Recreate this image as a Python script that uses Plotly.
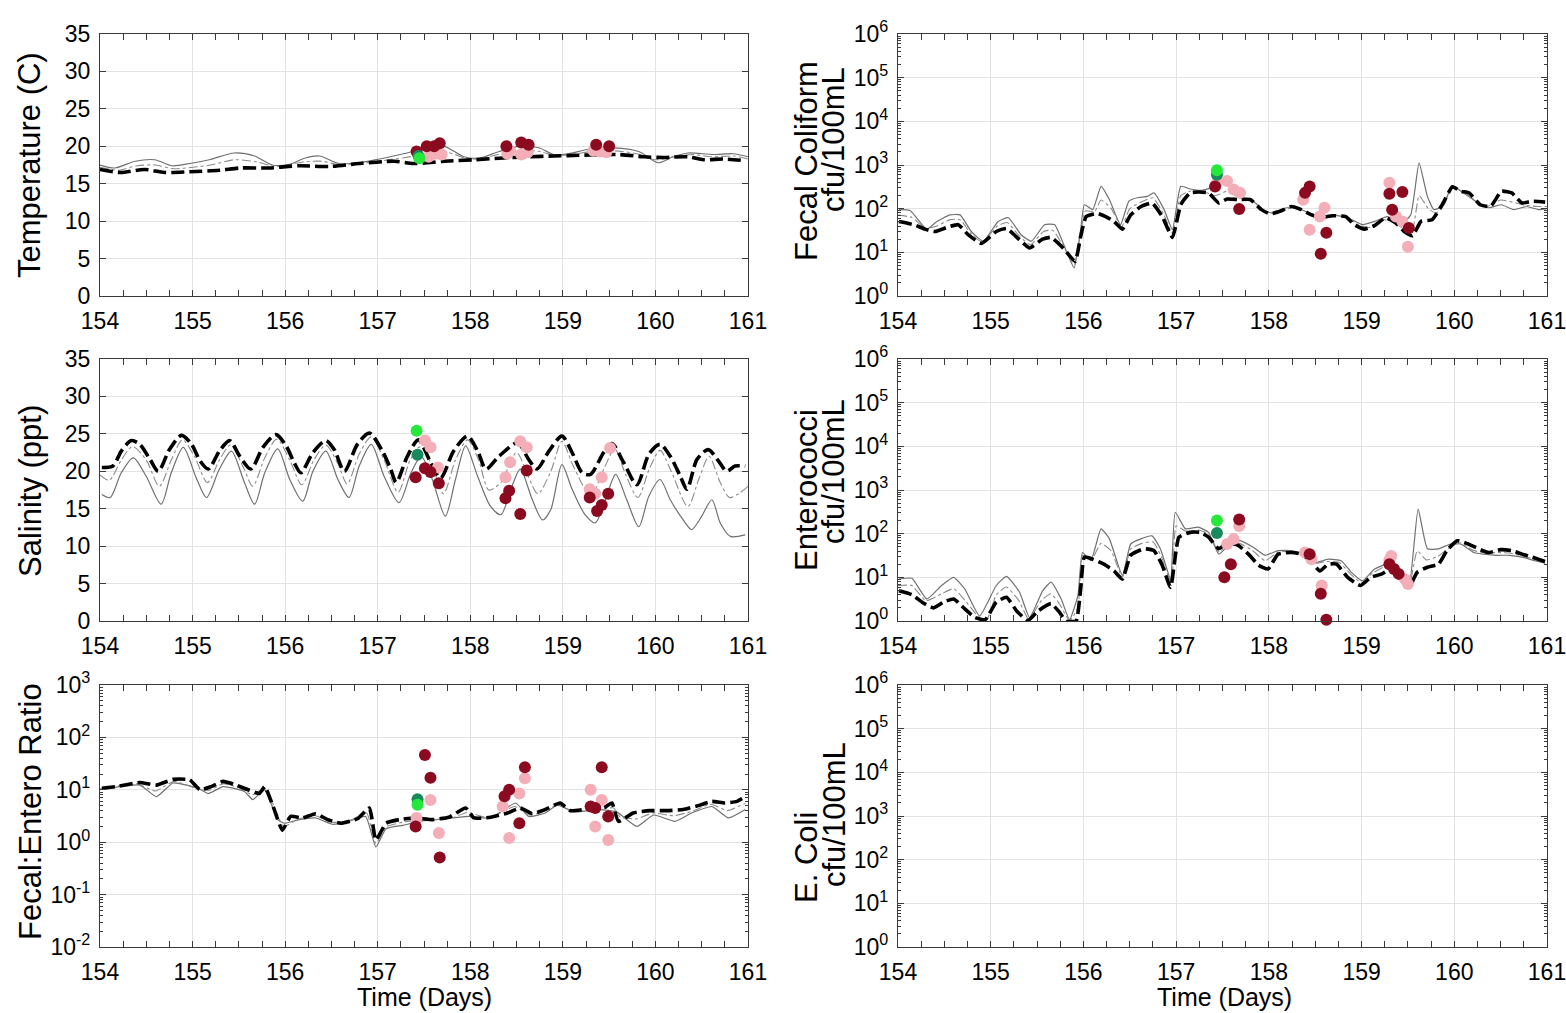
import plotly.graph_objects as go

# ---------------- DATA ----------------
# Temperature (C)
temp_black_t = [154.0, 154.22, 154.48, 154.70, 154.97, 155.29, 155.51, 155.83, 156.15, 156.48, 156.80, 157.18, 157.39, 157.72,
                158.04, 158.31, 158.63, 158.90, 159.17, 159.60, 159.87, 160.09, 160.35, 160.52, 160.73, 160.95]
temp_black_v = [16.9, 16.5, 16.9, 16.5, 16.6, 16.8, 17.1, 17.1, 17.4, 17.3, 17.7, 18.0, 17.7, 18.0,
                18.2, 18.4, 18.6, 18.7, 18.8, 18.9, 18.6, 18.5, 18.6, 18.2, 18.3, 18.1]
temp_thin_t = [154.0, 154.16, 154.38, 154.59, 154.78, 154.97, 155.18, 155.45, 155.67, 155.86, 156.05, 156.21, 156.37, 156.58,
               156.80, 157.02, 157.28, 157.55, 157.72, 157.93, 158.09, 158.31, 158.52, 158.74, 158.90, 159.06, 159.28, 159.55,
               159.82, 160.03, 160.19, 160.35, 160.62, 160.84, 161.0]
temp_thin_v = [17.5, 17.1, 18.0, 18.2, 17.4, 17.7, 18.2, 19.1, 18.7, 17.5, 17.6, 18.4, 18.7, 17.7,
               17.8, 18.3, 19.0, 19.8, 20.0, 18.6, 18.4, 19.3, 20.0, 19.8, 18.9, 19.0, 19.6, 19.8,
               19.3, 17.8, 18.6, 19.1, 18.9, 19.0, 18.6]
temp_dd_t = [154.0, 154.2, 154.4, 154.6, 154.8, 155.0, 155.2, 155.45, 155.7, 155.9, 156.2, 156.4, 156.6, 156.8, 157.0,
             157.3, 157.55, 157.75, 157.95, 158.1, 158.3, 158.55, 158.75, 158.9, 159.1, 159.3, 159.55, 159.8, 160.0,
             160.2, 160.4, 160.6, 160.85, 161.0]
temp_dd_v = [17.2, 16.8, 17.4, 17.5, 17.0, 17.2, 17.5, 18.2, 17.9, 17.3, 17.9, 18.0, 17.5, 17.7, 18.0,
             18.5, 19.0, 19.2, 18.4, 18.3, 18.9, 19.4, 19.3, 18.8, 18.9, 19.3, 19.4, 19.0, 18.2,
             18.6, 18.9, 18.6, 18.7, 18.3]
temp_red_t = [157.42, 157.53, 157.61, 157.67, 158.39, 158.55, 158.63, 159.36, 159.50]
temp_red_v = [19.3, 20.0, 20.0, 20.4, 20.0, 20.5, 20.2, 20.2, 20.0]
temp_pink_t = [157.55, 157.62, 157.69, 158.40, 158.43, 158.55, 158.62, 159.33, 159.40, 159.47]
temp_pink_v = [18.6, 19.0, 18.9, 19.0, 19.4, 18.9, 19.2, 19.4, 19.3, 19.2]
temp_teal_t = [157.44]
temp_teal_v = [18.7]
temp_green_t = [157.45]
temp_green_v = [18.4]

# Salinity (ppt)
sal_black_t = [154.02, 154.14, 154.23, 154.34, 154.43, 154.54, 154.63, 154.75, 154.88, 154.99, 155.08, 155.17, 155.29,
               155.40, 155.51, 155.63, 155.76, 155.90, 156.01, 156.10, 156.17, 156.30, 156.44, 156.53, 156.64, 156.78,
               156.91, 157.05, 157.14, 157.20, 157.32, 157.44, 157.56, 157.68, 157.82, 157.97, 158.08, 158.17, 158.31,
               158.51, 158.63, 158.72, 158.85, 158.99, 159.10, 159.21, 159.30, 159.44, 159.53, 159.66, 159.80, 159.93,
               160.05, 160.16, 160.27, 160.34, 160.45, 160.57, 160.68, 160.77, 160.86, 160.97]
sal_black_v = [20.5, 20.7, 22.7, 24.1, 23.6, 21.6, 20.0, 22.9, 24.8, 23.6, 21.4, 20.3, 22.7,
               24.1, 22.0, 20.3, 23.2, 24.9, 23.4, 21.1, 19.8, 22.5, 24.1, 22.9, 20.0, 23.6,
               25.1, 22.7, 20.3, 18.5, 22.0, 24.2, 21.5, 19.1, 22.7, 24.7, 22.7, 20.3, 22.0,
               23.8, 21.6, 20.3, 22.7, 24.7, 22.5, 19.8, 19.6, 22.5, 23.7, 21.1, 18.2, 22.3,
               23.6, 22.0, 19.3, 17.6, 21.6, 22.9, 21.4, 20.0, 20.7, 20.7]
sal_thin_t = [154.02, 154.11, 154.23, 154.36, 154.50, 154.66, 154.77, 154.90, 155.04, 155.15, 155.29, 155.42, 155.56,
              155.67, 155.78, 155.92, 156.05, 156.19, 156.30, 156.44, 156.57, 156.69, 156.80, 156.93, 157.07, 157.23,
              157.36, 157.47, 157.59, 157.73, 157.84, 157.95, 158.08, 158.22, 158.33, 158.45, 158.54, 158.67, 158.78,
              158.87, 158.99, 159.10, 159.24, 159.35, 159.46, 159.57, 159.69, 159.82, 159.93, 160.05, 160.16, 160.30,
              160.39, 160.50, 160.61, 160.70, 160.81, 160.97]
sal_thin_v = [16.9, 16.5, 19.8, 21.8, 19.3, 15.6, 19.8, 23.2, 19.1, 16.5, 20.3, 22.7, 18.5,
              15.6, 19.8, 23.0, 18.9, 16.0, 20.0, 22.7, 18.9, 16.5, 20.7, 23.6, 19.3, 15.8,
              19.8, 22.0, 18.9, 14.0, 18.9, 23.4, 19.3, 15.3, 14.2, 18.0, 20.3, 16.2, 13.5,
              14.9, 20.9, 17.6, 14.2, 13.1, 16.2, 19.6, 16.2, 12.6, 16.7, 18.9, 16.2, 13.5,
              12.2, 14.0, 16.2, 13.1, 11.3, 11.5]
sal_dd_t = [154.0, 154.1, 154.23, 154.35, 154.5, 154.64, 154.77, 154.89, 155.02, 155.16, 155.29, 155.41, 155.55, 155.65,
            155.78, 155.91, 156.05, 156.18, 156.31, 156.44, 156.57, 156.67, 156.8, 156.93, 157.07, 157.22, 157.35, 157.46,
            157.58, 157.71, 157.84, 157.97, 158.09, 158.2, 158.33, 158.5, 158.62, 158.73, 158.87, 158.99, 159.12, 159.3,
            159.45, 159.56, 159.68, 159.81, 159.94, 160.05, 160.17, 160.35, 160.47, 160.58, 160.7, 160.8, 160.9, 161.0]
sal_dd_v = [19.5, 18.8, 21.5, 23.3, 21.5, 18.0, 21.5, 24.2, 22.0, 18.5, 21.5, 23.5, 20.5, 18.0,
            21.8, 24.3, 21.5, 18.2, 21.5, 23.5, 21.0, 18.3, 22.3, 24.6, 21.5, 17.2, 21.5, 23.3,
            21.0, 17.0, 21.5, 24.2, 21.5, 17.5, 18.5, 22.5, 19.5, 17.0, 20.0, 24.0, 20.5, 16.8,
            20.5, 23.0, 19.5, 16.5, 20.5, 22.8, 20.0, 15.3, 19.0, 22.0, 18.5, 16.5, 17.0, 18.0]
sal_red_t = [157.41, 157.51, 157.57, 157.66, 158.38, 158.42, 158.54, 158.61, 159.29, 159.37, 159.42, 159.49]
sal_red_v = [19.2, 20.4, 19.9, 18.4, 16.4, 17.4, 14.3, 20.1, 16.5, 14.7, 15.5, 17.0]
sal_pink_t = [157.51, 157.57, 157.65, 158.38, 158.43, 158.54, 158.61, 159.29, 159.35, 159.42, 159.51]
sal_pink_v = [24.1, 23.2, 20.5, 19.2, 21.2, 24.0, 23.2, 17.6, 17.0, 19.2, 23.1]
sal_teal_t = [157.43]
sal_teal_v = [22.2]
sal_green_t = [157.42]
sal_green_v = [25.4]

# Fecal coliform (cfu/100mL)
fc_black_t = [154.01, 154.17, 154.29, 154.40, 154.54, 154.65, 154.76, 154.90, 155.06, 155.17, 155.31, 155.42, 155.56,
              155.65, 155.78, 155.91, 155.97, 156.03, 156.15, 156.24, 156.33, 156.42, 156.51, 156.62, 156.74, 156.85,
              156.96, 157.05, 157.15, 157.24, 157.35, 157.46, 157.55, 157.67, 157.80, 157.92, 158.01, 158.12, 158.24,
              158.35, 158.46, 158.55, 158.69, 158.83, 158.92, 159.03, 159.14, 159.26, 159.37, 159.46, 159.55, 159.64,
              159.76, 159.87, 159.98, 160.07, 160.16, 160.28, 160.39, 160.51, 160.62, 160.73, 160.84, 160.98]
fc_black_v = [51, 43, 34, 30, 38, 43, 25, 16, 30, 35, 19.5, 12.6, 20,
              22, 12.6, 6.2, 23, 66, 78, 66, 51, 34, 72, 112, 135, 66,
              22, 123, 229, 240, 229, 135, 166, 162, 162, 95, 76, 87, 112,
              95, 72, 63, 69, 66, 43, 34, 41, 62, 47, 30, 24, 51,
              56, 123, 316, 251, 229, 123, 112, 251, 229, 135, 148, 141]
fc_thin_t = [154.01, 154.13, 154.31, 154.42, 154.56, 154.67, 154.79, 154.92, 155.08, 155.19, 155.33, 155.44, 155.58,
             155.69, 155.81, 155.90, 155.97, 156.01, 156.10, 156.19, 156.28, 156.40, 156.49, 156.58, 156.69, 156.76,
             156.87, 156.96, 157.05, 157.15, 157.28, 157.42, 157.55, 157.69, 157.83, 157.96, 158.05, 158.19, 158.30,
             158.44, 158.55, 158.69, 158.85, 159.01, 159.14, 159.28, 159.42, 159.53, 159.62, 159.71, 159.78, 159.87,
             159.98, 160.10, 160.23, 160.37, 160.51, 160.64, 160.78, 160.91, 161.0]
fc_thin_v = [95, 91, 34, 51, 72, 72, 30, 18, 51, 62, 25, 18, 43,
             43, 11.5, 4.4, 33, 123, 95, 324, 162, 43, 148, 178, 191, 229,
             95, 33, 324, 282, 263, 324, 427, 191, 148, 87, 79, 105, 105,
             79, 66, 72, 62, 43, 51, 66, 43, 72, 1120, 191, 95, 112,
             324, 229, 148, 105, 123, 95, 112, 95, 100]
fc_dd_t = [154.0, 154.15, 154.3, 154.42, 154.56, 154.67, 154.78, 154.91, 155.07, 155.18, 155.32, 155.43, 155.57, 155.67,
           155.8, 155.9, 155.97, 156.02, 156.12, 156.19, 156.3, 156.41, 156.5, 156.62, 156.75, 156.86, 156.96, 157.05,
           157.15, 157.28, 157.42, 157.55, 157.68, 157.82, 157.95, 158.05, 158.2, 158.32, 158.45, 158.55, 158.7, 158.84,
           158.97, 159.08, 159.22, 159.35, 159.45, 159.55, 159.62, 159.72, 159.8, 159.88, 159.98, 160.1, 160.22, 160.35,
           160.5, 160.63, 160.76, 160.9, 161.0]
fc_dd_v = [71, 63, 35, 40, 56, 56, 28, 17, 40, 48, 22, 15, 30, 32,
           12, 5.2, 28, 89, 85, 158, 100, 38, 100, 141, 178, 79, 28, 200,
           251, 251, 200, 251, 178, 155, 91, 79, 100, 100, 76, 65, 71, 63,
           42, 37, 56, 50, 35, 35, 200, 100, 79, 112, 316, 240, 158, 112,
           158, 141, 120, 112, 112]
fc_red_t = [157.42, 157.68, 158.39, 158.44, 158.56, 158.62, 159.30, 159.33, 159.44, 159.51]
fc_red_v = [320, 98, 230, 320, 9.3, 28, 220, 95, 240, 36]
fc_pink_t = [157.44, 157.55, 157.62, 157.69, 158.37, 158.44, 158.55, 158.60, 159.30, 159.37, 159.44, 159.50]
fc_pink_v = [390, 430, 275, 230, 160, 33, 66, 105, 390, 66, 51, 13.5]
fc_teal_t = [157.44]
fc_teal_v = [600]
fc_green_t = [157.44]
fc_green_v = [760]

# Enterococci (cfu/100mL)
ent_black_t = [154.01, 154.15, 154.26, 154.38, 154.49, 154.60, 154.72, 154.83, 154.94, 155.06, 155.17, 155.28, 155.40,
               155.51, 155.65, 155.74, 155.81, 155.92, 155.97, 156.01, 156.10, 156.22, 156.33, 156.42, 156.51, 156.65,
               156.76, 156.85, 156.94, 157.03, 157.15, 157.26, 157.35, 157.46, 157.55, 157.67, 157.78, 157.89, 157.99,
               158.10, 158.24, 158.35, 158.46, 158.55, 158.64, 158.73, 158.85, 158.99, 159.10, 159.22, 159.34, 159.42,
               159.51, 159.60, 159.71, 159.83, 159.92, 160.03, 160.15, 160.26, 160.37, 160.50, 160.62, 160.73, 160.84,
               160.98]
ent_black_v = [4.9, 4.0, 2.7, 2.0, 2.7, 3.2, 1.9, 1.2, 1.07, 2.7, 3.5, 1.7, 1.02,
               1.7, 2.5, 1.6, 1.0, 1.0, 5.4, 29, 26, 20, 14, 9.1, 32, 45,
               41, 19, 5.9, 83, 107, 107, 83, 45, 63, 54, 34, 19, 15.5,
               34, 37, 34, 22, 14, 20, 20, 10, 6.5, 10, 12, 17, 12,
               5.9, 13, 17, 20, 41, 69, 58, 45, 37, 43, 41, 34, 29,
               23]
ent_thin_t = [154.01, 154.15, 154.31, 154.47, 154.60, 154.72, 154.88, 155.06, 155.17, 155.31, 155.42, 155.56, 155.65,
              155.76, 155.85, 155.94, 155.99, 156.08, 156.19, 156.28, 156.42, 156.51, 156.62, 156.74, 156.83, 156.94,
              156.99, 157.10, 157.24, 157.35, 157.46, 157.58, 157.69, 157.83, 157.96, 158.10, 158.24, 158.37, 158.51,
              158.64, 158.78, 158.89, 159.01, 159.14, 159.28, 159.42, 159.51, 159.61, 159.71, 159.83, 159.96, 160.07,
              160.21, 160.32, 160.46, 160.60, 160.73, 160.87, 160.98]
ent_thin_v = [9.1, 9.5, 3.2, 6.5, 10, 5.4, 1.3, 6.5, 10.5, 4.6, 1.2, 4.9, 7.8,
              3.2, 1.07, 3.8, 37, 24, 129, 76, 11, 58, 76, 89, 45, 9.1,
              309, 129, 141, 107, 34, 58, 69, 49, 32, 41, 41, 34, 22,
              26, 24, 13, 8.3, 15.5, 20, 13, 5.9, 363, 45, 45, 58, 58,
              37, 34, 32, 32, 29, 24, 21]
ent_dd_t = [154.0, 154.15, 154.3, 154.47, 154.6, 154.72, 154.87, 154.96, 155.06, 155.17, 155.3, 155.41, 155.55, 155.65,
            155.75, 155.85, 155.94, 155.99, 156.08, 156.19, 156.3, 156.42, 156.51, 156.63, 156.75, 156.84, 156.95, 157.0,
            157.1, 157.25, 157.36, 157.46, 157.57, 157.68, 157.82, 157.96, 158.1, 158.24, 158.36, 158.5, 158.62, 158.76,
            158.88, 159.0, 159.12, 159.27, 159.42, 159.51, 159.6, 159.7, 159.82, 159.95, 160.06, 160.2, 160.33, 160.47,
            160.6, 160.73, 160.86, 160.98]
ent_dd_v = [6.5, 6.5, 2.9, 4.2, 5.5, 3.0, 1.25, 1.1, 4.0, 6.0, 3.0, 1.1, 3.0, 4.2,
            2.3, 1.02, 2.0, 32, 24, 60, 40, 10, 45, 60, 65, 30, 7.5, 150,
            115, 120, 95, 38, 60, 60, 42, 24, 38, 39, 34, 21, 23, 22,
            12, 7.5, 12.5, 18, 12, 5.9, 40, 25, 30, 48, 62, 42, 36, 37,
            36, 31, 26, 22]
ent_red_t = [157.52, 157.59, 157.68, 158.44, 158.56, 158.62, 159.30, 159.35, 159.40]
ent_red_v = [10, 20, 210, 34, 4.2, 1.07, 20, 15.5, 12]
ent_pink_t = [157.55, 157.62, 157.68, 158.39, 158.46, 158.57, 159.30, 159.32, 159.47, 159.50]
ent_pink_v = [58, 75, 150, 37, 26, 6.5, 25, 31, 9, 7]
ent_teal_t = [157.44]
ent_teal_v = [104]
ent_green_t = [157.44]
ent_green_v = [200]

# Fecal:Entero ratio
rat_black_t = [154.02, 154.20, 154.43, 154.61, 154.79, 154.97, 155.08, 155.20, 155.33, 155.47, 155.60, 155.72, 155.78,
               155.87, 155.97, 156.06, 156.19, 156.33, 156.46, 156.60, 156.78, 156.91, 156.98, 157.09, 157.23, 157.41,
               157.59, 157.77, 157.95, 158.04, 158.22, 158.40, 158.54, 158.67, 158.81, 158.97, 159.08, 159.26, 159.44,
               159.53, 159.60, 159.76, 159.94, 160.12, 160.30, 160.48, 160.61, 160.75, 160.88, 160.97]
rat_black_v = [10.7, 11.7, 13.8, 12.3, 15.8, 15.5, 10, 11.5, 14.5, 12.3, 10, 8.5, 11.5,
               4.8, 1.7, 3.1, 2.9, 3.5, 2.7, 2.3, 2.8, 4.5, 1.1, 2.3, 2.7, 2.9,
               2.7, 3.0, 4.5, 2.9, 3.0, 3.6, 4.5, 3.5, 4.2, 5.6, 4.0, 4.3, 4.5,
               5.6, 2.5, 3.6, 4.0, 4.0, 4.2, 5.1, 6.0, 5.6, 6.0, 7.4]
rat_thin_t = [154.02, 154.43, 154.61, 154.79, 155.06, 155.17, 155.33, 155.56, 155.65, 155.78, 155.92, 155.99, 156.15,
              156.33, 156.51, 156.69, 156.87, 156.98, 157.09, 157.27, 157.46, 157.63, 157.81, 157.99, 158.22, 158.49,
              158.63, 158.81, 158.94, 159.12, 159.40, 159.58, 159.80, 159.98, 160.21, 160.39, 160.61, 160.79, 160.97]
rat_thin_v = [10.2, 12.3, 7.4, 13.5, 10.7, 8.5, 11.5, 9.3, 6.5, 10, 2.7, 2.3, 2.7,
              2.9, 2.2, 2.5, 3.1, 0.81, 1.8, 2.1, 2.5, 2.7, 2.9, 3.1, 2.9, 5.6,
              3.1, 3.6, 5.1, 3.8, 4.2, 3.8, 2.0, 3.3, 2.5, 3.6, 4.8, 2.9, 4.2]
rat_dd_t = [154.0, 154.4, 154.6, 154.8, 155.05, 155.18, 155.33, 155.5, 155.65, 155.78, 155.9, 155.98, 156.15, 156.33,
            156.5, 156.7, 156.88, 156.98, 157.1, 157.27, 157.45, 157.62, 157.8, 157.97, 158.2, 158.48, 158.63, 158.8,
            158.95, 159.1, 159.4, 159.55, 159.62, 159.8, 159.97, 160.2, 160.4, 160.6, 160.78, 160.97]
rat_dd_v = [10.5, 13, 9.5, 14.5, 10.5, 9.8, 13, 11, 8, 10.8, 4, 2.0, 2.8, 3.2,
            2.4, 2.6, 3.6, 0.95, 2.0, 2.4, 2.7, 2.7, 2.9, 3.7, 2.9, 4.8, 3.3, 3.9,
            5.3, 3.9, 4.3, 4.5, 3.0, 2.8, 3.6, 3.2, 3.9, 5.3, 4.0, 5.5]
rat_red_t = [157.41, 157.51, 157.57, 157.67, 158.37, 158.42, 158.53, 158.59, 159.30, 159.35, 159.42, 159.49]
rat_red_v = [2.0, 46, 17, 0.51, 7.5, 10, 2.3, 27, 4.8, 4.5, 27, 3.1]
rat_pink_t = [157.42, 157.57, 157.66, 158.35, 158.42, 158.53, 158.59, 159.30, 159.35, 159.42, 159.49]
rat_pink_v = [2.9, 6.4, 1.5, 4.8, 1.2, 8.5, 16.6, 10, 2.0, 6.4, 1.1]
rat_teal_t = [157.43]
rat_teal_v = [6.6]
rat_green_t = [157.43]
rat_green_v = [5.2]

# axis labels / ticks
day_ticks = [154, 155, 156, 157, 158, 159, 160, 161]
lin_ticks = [0, 5, 10, 15, 20, 25, 30, 35]
bact_ticks = [1, 10, 100, 1000, 10000, 100000, 1000000]
bact_text = ["10<sup>0</sup>", "10<sup>1</sup>", "10<sup>2</sup>", "10<sup>3</sup>",
             "10<sup>4</sup>", "10<sup>5</sup>", "10<sup>6</sup>"]
ratio_ticks = [0.01, 0.1, 1, 10, 100, 1000]
ratio_text = ["10<sup>-2</sup>", "10<sup>-1</sup>", "10<sup>0</sup>", "10<sup>1</sup>",
              "10<sup>2</sup>", "10<sup>3</sup>"]

# ---------------- STYLE ----------------
W, H = 1566, 1013
FONT = "Liberation Sans, Arial, sans-serif"
C_RED = "#8c0a1f"
C_PINK = "#f4aeb8"
C_GREEN = "#25e83a"
C_TEAL = "#17895c"
C_THIN = "#707070"
C_DD = "#8c8c8c"

LX = [100 / W, 748 / W]
RX = [898 / W, 1547 / W]
ROWS = [[1 - 296 / H, 1 - 34 / H], [1 - 621 / H, 1 - 359 / H], [1 - 947 / H, 1 - 685 / H]]

fig = go.Figure()


def add_panel(i, thin, dd, black, red, pink, teal, green, smooth):
    xa = "x" if i == 1 else f"x{i}"
    ya = "y" if i == 1 else f"y{i}"
    sm = smooth
    fig.add_trace(go.Scatter(x=thin[0], y=thin[1], mode="lines", xaxis=xa, yaxis=ya,
                             line=dict(color=C_THIN, width=1.2, shape="spline", smoothing=sm), showlegend=False))
    fig.add_trace(go.Scatter(x=dd[0], y=dd[1], mode="lines", xaxis=xa, yaxis=ya,
                             line=dict(color=C_DD, width=1.1, dash="dashdot", shape="spline", smoothing=sm),
                             showlegend=False))
    fig.add_trace(go.Scatter(x=black[0], y=black[1], mode="lines", xaxis=xa, yaxis=ya,
                             line=dict(color="black", width=3.6, dash="13px,5px", shape="spline", smoothing=sm),
                             showlegend=False))
    for (t, v), col in ((pink, C_PINK), (red, C_RED), (teal, C_TEAL), (green, C_GREEN)):
        fig.add_trace(go.Scatter(x=t, y=v, mode="markers", xaxis=xa, yaxis=ya, cliponaxis=False,
                                 marker=dict(color=col, size=12, line=dict(width=0)), showlegend=False))


add_panel(1, (temp_thin_t, temp_thin_v), (temp_dd_t, temp_dd_v), (temp_black_t, temp_black_v),
          (temp_red_t, temp_red_v), (temp_pink_t, temp_pink_v), (temp_teal_t, temp_teal_v),
          (temp_green_t, temp_green_v), 0.8)
add_panel(2, (fc_thin_t, fc_thin_v), (fc_dd_t, fc_dd_v), (fc_black_t, fc_black_v),
          (fc_red_t, fc_red_v), (fc_pink_t, fc_pink_v), (fc_teal_t, fc_teal_v), (fc_green_t, fc_green_v), 0.45)
add_panel(3, (sal_thin_t, sal_thin_v), (sal_dd_t, sal_dd_v), (sal_black_t, sal_black_v),
          (sal_red_t, sal_red_v), (sal_pink_t, sal_pink_v), (sal_teal_t, sal_teal_v),
          (sal_green_t, sal_green_v), 0.8)
add_panel(4, (ent_thin_t, ent_thin_v), (ent_dd_t, ent_dd_v), (ent_black_t, ent_black_v),
          (ent_red_t, ent_red_v), (ent_pink_t, ent_pink_v), (ent_teal_t, ent_teal_v),
          (ent_green_t, ent_green_v), 0.45)
add_panel(5, (rat_thin_t, rat_thin_v), (rat_dd_t, rat_dd_v), (rat_black_t, rat_black_v),
          (rat_red_t, rat_red_v), (rat_pink_t, rat_pink_v), (rat_teal_t, rat_teal_v),
          (rat_green_t, rat_green_v), 0.45)
# empty E. coli panel (no data) - keeps its axes drawn
fig.add_trace(go.Scatter(x=[], y=[], mode="lines", xaxis="x6", yaxis="y6", showlegend=False))

tickfont = dict(family=FONT, size=23, color="black")
common = dict(showline=True, linecolor="#3a3a3a", linewidth=1.2, mirror="allticks", ticks="inside",
              ticklen=6, tickcolor="#3a3a3a", showgrid=True, gridcolor="#e3e3e3", gridwidth=1,
              zeroline=False, tickfont=tickfont, automargin=False, ticklabeloverflow="allow")

layout = dict(width=W, height=H, margin=dict(l=0, r=0, t=0, b=0, pad=0), autosize=False,
              paper_bgcolor="white", plot_bgcolor="white", showlegend=False,
              font=dict(family=FONT, color="black"))

for i in range(1, 7):
    col = 0 if i % 2 == 1 else 1
    row = (i - 1) // 2
    xk = "xaxis" if i == 1 else f"xaxis{i}"
    yk = "yaxis" if i == 1 else f"yaxis{i}"
    xa_anchor = "y" if i == 1 else f"y{i}"
    ya_anchor = "x" if i == 1 else f"x{i}"
    layout[xk] = dict(common, domain=LX if col == 0 else RX, anchor=xa_anchor, range=[154, 161],
                      tickmode="array", tickvals=day_ticks, ticklabelstandoff=4,
                      minor=dict(ticks="inside", ticklen=6, dtick=0.25, tick0=154, tickcolor="#3a3a3a",
                                 showgrid=False))
    if col == 0 and row < 2:
        layout[yk] = dict(common, domain=ROWS[row], anchor=ya_anchor, range=[0, 35],
                          tickmode="array", tickvals=lin_ticks, ticklabelstandoff=4)
    elif col == 0:
        layout[yk] = dict(common, domain=ROWS[row], anchor=ya_anchor, type="log", range=[-2, 3],
                          tickmode="array", tickvals=ratio_ticks, ticktext=ratio_text, ticklabelstandoff=4,
                          minor=dict(ticks="inside", ticklen=3, dtick="D1", tickcolor="#3a3a3a", showgrid=False))
    else:
        layout[yk] = dict(common, domain=ROWS[row], anchor=ya_anchor, type="log", range=[0, 6],
                          tickmode="array", tickvals=bact_ticks, ticktext=bact_text, ticklabelstandoff=4,
                          minor=dict(ticks="inside", ticklen=3, dtick="D1", tickcolor="#3a3a3a", showgrid=False))

fig.update_layout(**layout)

TFONT = dict(family=FONT, size=31, color="black")
ann = []
# left y titles
for txt, yc in (("Temperature (C)", 165), ("Salinity (ppt)", 491), ("Fecal:Entero Ratio", 812)):
    ann.append(dict(text=txt, x=30 / W, y=1 - yc / H, xref="paper", yref="paper", textangle=-90,
                    showarrow=False, font=TFONT, xanchor="center", yanchor="middle"))
# right two-line titles
for top, yc1, yc2 in (("Fecal Coliform", 161, 140), ("Enterococci", 490, 472), ("E. Coli", 858, 815)):
    ann.append(dict(text=top, x=806 / W, y=1 - yc1 / H, xref="paper", yref="paper", textangle=-90,
                    showarrow=False, font=TFONT, xanchor="center", yanchor="middle"))
    ann.append(dict(text="cfu/100mL", x=834 / W, y=1 - yc2 / H, xref="paper", yref="paper", textangle=-90,
                    showarrow=False, font=TFONT, xanchor="center", yanchor="middle"))
for xc in (424, 1224):
    ann.append(dict(text="Time (Days)", x=xc / W, y=1 - 997 / H, xref="paper", yref="paper",
                    showarrow=False, font=dict(family=FONT, size=25, color="black"),
                    xanchor="center", yanchor="middle"))
fig.update_layout(annotations=ann)

fig.write_html("out.html", config={"displayModeBar": False},
               post_script="document.body.style.margin='0';document.body.style.padding='0';"
                           "document.body.style.overflow='hidden';")
